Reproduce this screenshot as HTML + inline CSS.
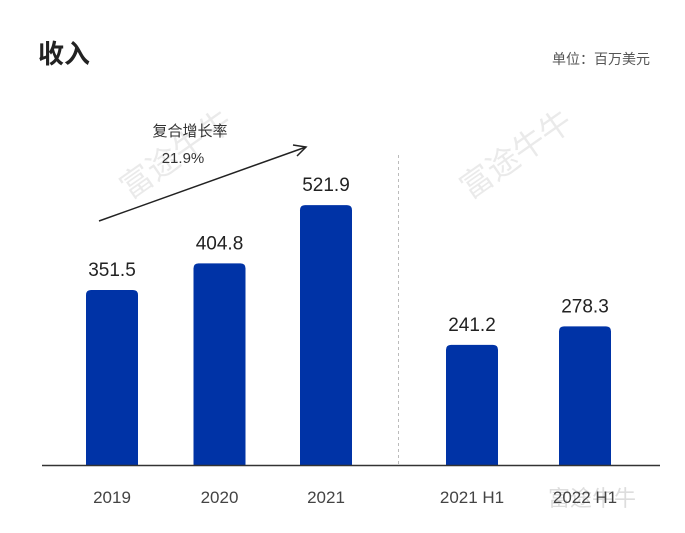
<!DOCTYPE html>
<html><head><meta charset="utf-8">
<style>
body{margin:0;background:#fff;width:685px;height:533px;overflow:hidden;font-family:"Liberation Sans","Noto Sans CJK SC",sans-serif;}
svg{display:block}
</style></head>
<body>
<svg id="chart" width="685" height="533">
<text x="38" y="63" font-size="26" font-weight="bold" fill="#222" font-family="Liberation Sans, Noto Sans CJK SC, sans-serif">收入</text>
<text x="650" y="64" font-size="14" fill="#555" text-anchor="end" font-family="Liberation Sans, Noto Sans CJK SC, sans-serif">单位：百万美元</text>
<g opacity="0.08" fill="#000">
<text x="470" y="200" font-size="32" transform="rotate(-35 470 200)" font-family="Noto Sans CJK SC, sans-serif">富途牛牛</text>
<text x="130" y="200" font-size="32" transform="rotate(-35 130 200)" font-family="Noto Sans CJK SC, sans-serif">富途牛牛</text>
</g>
<text x="548" y="506" font-size="22" fill="#ddd" font-family="Noto Sans CJK SC, sans-serif">富途牛牛</text>
<g id="bars"></g>
<line x1="42" y1="465.5" x2="660" y2="465.5" stroke="#333" stroke-width="1.5"/>
<line x1="398.5" y1="155" x2="398.5" y2="465" stroke="#bbb" stroke-dasharray="3,3"/>
<line x1="99" y1="221" x2="306" y2="147" stroke="#222" stroke-width="1.5"/>
<polyline points="293,145 306,147 297,156" fill="none" stroke="#222" stroke-width="1.5"/>
<text x="190" y="136" font-size="15" fill="#333" text-anchor="middle" font-family="Liberation Sans, Noto Sans CJK SC, sans-serif">复合增长率</text>
<text x="183" y="163" font-size="15" fill="#333" text-anchor="middle">21.9%</text>
</svg>
<script>
const categories=["2019","2020","2021","2021 H1","2022 H1"];
const values=[351.5,404.8,521.9,241.2,278.3];
const labels=["351.5","404.8","521.9","241.2","278.3"];
const centers=[112,219.5,326,472,585];
const baseY=465, scale=0.498, bw=52;
const y=v=>baseY-v*scale;
const g=document.getElementById('bars');
const ns="http://www.w3.org/2000/svg";
values.forEach((v,i)=>{
  const x=centers[i]-bw/2, top=y(v), r=5;
  const p=document.createElementNS(ns,'path');
  p.setAttribute('d',`M${x},${baseY}V${top+r}Q${x},${top} ${x+r},${top}H${x+bw-r}Q${x+bw},${top} ${x+bw},${top+r}V${baseY}Z`);
  p.setAttribute('fill','#0033a6');
  
  
  g.appendChild(p);
  const t=document.createElementNS(ns,'text');
  t.setAttribute('x',centers[i]);t.setAttribute('y',top-14);
  t.setAttribute('text-anchor','middle');t.setAttribute('font-size','19');t.setAttribute('fill','#222');
  t.textContent=labels[i];
  
  
  g.appendChild(t);
  const c=document.createElementNS(ns,'text');
  c.setAttribute('x',centers[i]);c.setAttribute('y',503);
  c.setAttribute('text-anchor','middle');c.setAttribute('font-size','17');c.setAttribute('fill','#444');
  c.textContent=categories[i];
  
  
  g.appendChild(c);
});
</script>
</body></html>
